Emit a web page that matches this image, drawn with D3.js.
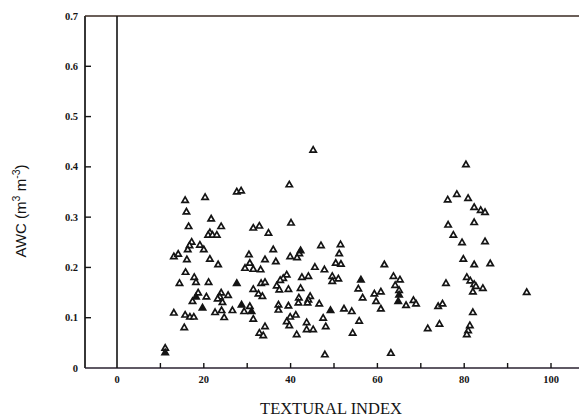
<!DOCTYPE html>
<html>
<head>
<meta charset="utf-8">
<script src="https://cdn.jsdelivr.net/npm/d3@7"></script>
<style>
  html, body { margin: 0; padding: 0; background: #fff; }
  svg { display: block; }
</style>
</head>
<body>
<script>
// Axis ticks
const xTicks = [10, 20, 30, 40, 50, 60, 70, 80, 90, 100];
const xTickLabels = [0, 20, 40, 60, 80, 100];
const yTicks = [0.1, 0.2, 0.3, 0.4, 0.5, 0.6];
const yTickLabels = [0, 0.1, 0.2, 0.3, 0.4, 0.5, 0.6, 0.7];

// Samples drawn as open triangles: textural index and available water content
const openIndex = [
  15.7, 20.3, 16.0, 21.7, 16.5, 24.0, 21.4, 21.0, 22.0, 23.0,
  17.2, 16.7, 16.3, 19.1, 20.0, 13.1, 14.1, 16.1, 21.4, 23.3,
  15.8, 17.8, 18.2, 14.4, 21.1, 18.7, 17.4, 20.6, 24.0, 23.7,
  25.6, 23.2, 24.3, 13.1, 15.7, 16.8, 17.7, 22.6, 24.1, 24.7,
  26.6, 15.5, 11.1,
  27.6, 28.6, 39.7, 45.2, 40.1, 31.4, 32.8, 34.9, 36.0, 42.0,
  47.0, 51.5, 30.4, 34.1, 36.6, 39.9, 41.5, 51.2, 50.4, 51.6,
  29.5, 30.6, 31.4, 33.1, 45.6, 47.8, 39.1, 38.3, 37.6, 42.6,
  44.1, 49.6, 51.0, 49.6, 33.2, 34.1, 36.8, 37.4, 39.5, 42.3,
  31.4, 32.6, 33.5, 44.5, 44.1, 43.9, 41.9, 41.8, 37.2, 37.2,
  39.5, 46.6, 52.3, 30.6, 29.3, 31.4, 41.2, 39.9, 39.1, 39.7,
  43.7, 43.7, 45.2, 47.5, 48.1, 34.1, 32.8, 33.7, 41.4, 47.9,
  61.6, 55.6, 63.7, 65.2, 64.1, 65.0, 56.6, 59.3, 60.8, 59.7,
  60.8, 66.6, 68.3, 68.9, 54.1, 55.8, 54.3, 63.1,
  80.4, 76.2, 78.3, 80.9, 82.3, 83.8, 84.8, 76.3, 82.3, 77.5,
  79.5, 84.8, 79.8, 82.3, 86.0, 80.6, 81.4, 82.3, 82.7, 82.0,
  84.3, 75.8, 94.4, 74.0, 75.0, 82.0, 71.6, 74.3, 81.3, 80.9,
  80.6
];
const openAwc = [
  0.333, 0.339, 0.310, 0.296, 0.281, 0.281, 0.269, 0.264, 0.264, 0.264,
  0.250, 0.243, 0.235, 0.244, 0.235, 0.221, 0.226, 0.215, 0.216, 0.205,
  0.190, 0.180, 0.170, 0.168, 0.170, 0.149, 0.132, 0.141, 0.149, 0.141,
  0.144, 0.137, 0.130, 0.109, 0.105, 0.101, 0.101, 0.110, 0.114, 0.100,
  0.114, 0.080, 0.039,
  0.350, 0.352, 0.364, 0.433, 0.288, 0.278, 0.282, 0.268, 0.235, 0.227,
  0.243, 0.245, 0.225, 0.215, 0.211, 0.221, 0.219, 0.227, 0.208, 0.206,
  0.198, 0.208, 0.196, 0.195, 0.200, 0.195, 0.185, 0.178, 0.174, 0.180,
  0.182, 0.182, 0.177, 0.172, 0.168, 0.170, 0.163, 0.155, 0.156, 0.158,
  0.156, 0.147, 0.142, 0.142, 0.135, 0.129, 0.139, 0.129, 0.125, 0.115,
  0.123, 0.127, 0.117, 0.122, 0.112, 0.097, 0.105, 0.101, 0.092, 0.084,
  0.090, 0.076, 0.076, 0.099, 0.082, 0.082, 0.069, 0.064, 0.066, 0.026,
  0.205, 0.157, 0.182, 0.175, 0.164, 0.154, 0.139, 0.147, 0.151, 0.132,
  0.117, 0.124, 0.134, 0.127, 0.112, 0.093, 0.069, 0.029,
  0.404, 0.334, 0.345, 0.337, 0.319, 0.313, 0.309, 0.284, 0.289, 0.264,
  0.249, 0.251, 0.216, 0.205, 0.207, 0.180, 0.173, 0.166, 0.162, 0.151,
  0.158, 0.168, 0.150, 0.122, 0.127, 0.110, 0.078, 0.087, 0.084, 0.074,
  0.066
];

// Samples drawn as solid triangles
const solidIndex = [27.6, 18.2, 19.7, 11.1, 42.3, 49.2, 28.7, 31.0, 56.2, 65.0, 64.8];
const solidAwc   = [0.168, 0.141, 0.119, 0.030, 0.233, 0.114, 0.125, 0.112, 0.175, 0.145, 0.132];

const W = 579, H = 419;
const svg = d3.select("body").append("svg")
  .attr("width", W).attr("height", H);

// Scales: x = 0 falls on the inner reference line, frame starts left of it
const x = d3.scaleLinear().domain([0, 100]).range([117, 551]);
const y = d3.scaleLinear().domain([0, 0.7]).range([368, 16]);
const frameLeft = 85, frameRight = W;

const ink = "#141414";

// Frame: left axis, bottom axis, top border
svg.append("line")
  .attr("x1", frameLeft).attr("x2", frameLeft)
  .attr("y1", y(0.7)).attr("y2", y(0))
  .attr("stroke", ink).attr("stroke-width", 1.7);
svg.append("line")
  .attr("x1", frameLeft).attr("x2", frameRight)
  .attr("y1", y(0)).attr("y2", y(0))
  .attr("stroke", "#2a2230").attr("stroke-width", 1.7);
svg.append("line")
  .attr("x1", frameLeft).attr("x2", frameRight)
  .attr("y1", y(0.7)).attr("y2", y(0.7))
  .attr("stroke", "#3a2a22").attr("stroke-width", 1.7);

// Reference line at x = 0
svg.append("line")
  .attr("x1", x(0)).attr("x2", x(0))
  .attr("y1", y(0.7)).attr("y2", y(0))
  .attr("stroke", ink).attr("stroke-width", 1.6);

// Inward ticks
svg.append("g").selectAll("line").data(yTicks).join("line")
  .attr("x1", frameLeft).attr("x2", frameLeft + 6)
  .attr("y1", d => y(d)).attr("y2", d => y(d))
  .attr("stroke", ink).attr("stroke-width", 1.4);
svg.append("g").selectAll("line").data(xTicks).join("line")
  .attr("x1", d => x(d)).attr("x2", d => x(d))
  .attr("y1", y(0)).attr("y2", y(0) - 5)
  .attr("stroke", ink).attr("stroke-width", 1.4);

// Tick labels
const tickFont = "'Liberation Serif', 'DejaVu Serif', serif";
svg.append("g").selectAll("text").data(yTickLabels).join("text")
  .attr("x", 78).attr("y", d => y(d) + 3.5)
  .attr("text-anchor", "end")
  .attr("font-family", tickFont).attr("font-weight", "bold")
  .attr("font-size", 10.5).attr("fill", ink)
  .text(d => d === 0 ? "0" : d.toFixed(1));
svg.append("g").selectAll("text").data(xTickLabels).join("text")
  .attr("x", d => x(d)).attr("y", 383)
  .attr("text-anchor", "middle")
  .attr("font-family", tickFont).attr("font-weight", "bold")
  .attr("font-size", 10.5).attr("fill", ink)
  .text(d => d);

// Axis titles
svg.append("text")
  .attr("x", 331).attr("y", 414)
  .attr("text-anchor", "middle")
  .attr("font-family", "'Liberation Serif', serif")
  .attr("font-size", 16.5).attr("fill", ink)
  .text("TEXTURAL INDEX");

const yTitle = svg.append("text")
  .attr("transform", "translate(26,211) rotate(-90)")
  .attr("text-anchor", "middle")
  .attr("font-family", "'Liberation Sans', Arial, sans-serif")
  .attr("font-size", 15).attr("fill", ink);
yTitle.append("tspan").text("AWC (m");
yTitle.append("tspan").attr("dy", -6).attr("font-size", 10.5).text("3");
yTitle.append("tspan").attr("dy", 6).text(" m");
yTitle.append("tspan").attr("dy", -6).attr("font-size", 10.5).text("-3");
yTitle.append("tspan").attr("dy", 6).text(")");

// Markers
const tri = d3.symbol().type(d3.symbolTriangle).size(17);
const openPts = openIndex.map((v, i) => [v, openAwc[i]]);
const solidPts = solidIndex.map((v, i) => [v, solidAwc[i]]);

svg.append("g").selectAll("path").data(openPts).join("path")
  .attr("d", tri)
  .attr("transform", d => `translate(${x(d[0])},${y(d[1])})`)
  .attr("fill", "#fff").attr("stroke", ink).attr("stroke-width", 1.7);
svg.append("g").selectAll("path").data(solidPts).join("path")
  .attr("d", tri)
  .attr("transform", d => `translate(${x(d[0])},${y(d[1])})`)
  .attr("fill", ink).attr("stroke", ink).attr("stroke-width", 1.7);
</script>
</body>
</html>
